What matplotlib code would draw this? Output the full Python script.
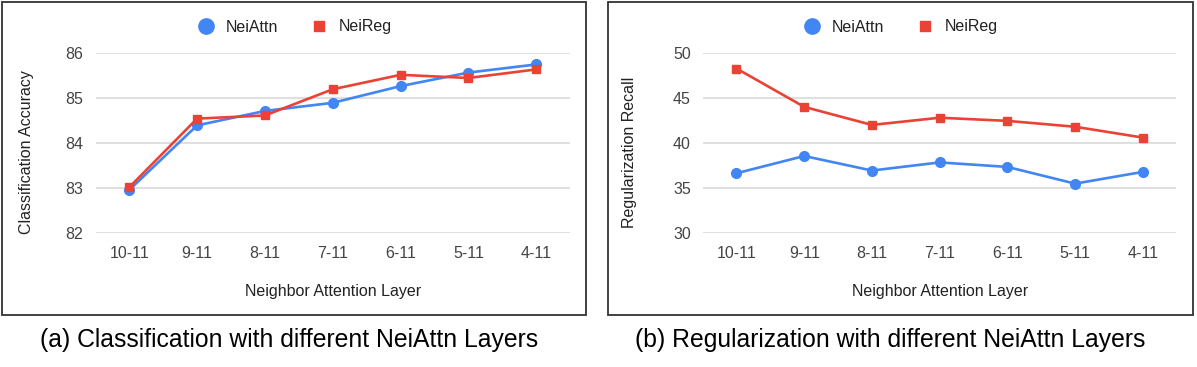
import matplotlib
matplotlib.use("Agg")
import matplotlib.pyplot as plt
from matplotlib.lines import Line2D
from matplotlib.patches import Rectangle
from matplotlib import font_manager

categories = ["10-11", "9-11", "8-11", "7-11", "6-11", "5-11", "4-11"]
cls_neiattn = [82.96, 84.39, 84.71, 84.89, 85.26, 85.56, 85.74]
cls_neireg = [83.02, 84.54, 84.61, 85.19, 85.51, 85.44, 85.63]
reg_neiattn = [36.65, 38.56, 36.95, 37.85, 37.35, 35.5, 36.8]
reg_neireg = [48.25, 44.0, 42.0, 42.8, 42.45, 41.8, 40.6]
cls_ticks = [82, 83, 84, 85, 86]
reg_ticks = [30, 35, 40, 45, 50]
series_names = ["NeiAttn", "NeiReg"]
captions = ["(a) Classification with different NeiAttn Layers",
            "(b) Regularization with different NeiAttn Layers"]
ylabels = ["Classification Accuracy", "Regularization Recall"]
xlabel = "Neighbor Attention Layer"

BLUE = "#4285F4"
RED = "#EA4335"
W, H = 1197, 367

names = {f.name for f in font_manager.fontManager.ttflist}
base_font = "Liberation Sans" if "Liberation Sans" in names else "DejaVu Sans"
cap_font = "Liberation Sans Narrow" if "Liberation Sans Narrow" in names else base_font
cap_size = 19 if cap_font.endswith("Narrow") else 17.8
plt.rcParams["font.family"] = [base_font, "DejaVu Sans"]

fig = plt.figure(figsize=(W / 100, H / 100), dpi=100)

def fx(px):
    return px / W

def fy(py):
    return 1 - py / H

panels = [
    dict(ax=(96, 569.5), frame=(2, 586), cap_x=289, ys=(cls_neiattn, cls_neireg),
         ticks=cls_ticks, ylabel=ylabels[0], caption=captions[0], ylab_x=34),
    dict(ax=(703.3, 1176), frame=(607.5, 1193), cap_x=890, ys=(reg_neiattn, reg_neireg),
         ticks=reg_ticks, ylabel=ylabels[1], caption=captions[1], ylab_x=637),
]

top_px, bot_px = 52.7, 233.3
x = list(range(len(categories)))

for p in panels:
    x0, x1 = p["ax"]
    ax = fig.add_axes([fx(x0), fy(bot_px), (x1 - x0) / W, (bot_px - top_px) / H])
    for spine in ax.spines.values():
        spine.set_visible(False)
    ax.set_xlim(-0.49, 6.49)
    ax.set_ylim(p["ticks"][0], p["ticks"][-1])
    ax.set_yticks(p["ticks"])
    ax.set_xticks(x)
    ax.set_xticklabels(categories)
    ax.tick_params(length=0, labelsize=11.5, colors="#444444")
    ax.tick_params(axis="x", pad=9)
    ax.tick_params(axis="y", pad=9)
    ax.grid(axis="y", color="#d9d9d9", linewidth=1.2)
    ax.set_axisbelow(True)
    ya, yr = p["ys"]
    ax.plot(x, ya, color=BLUE, lw=1.9, marker="o", ms=7, clip_on=False, zorder=3)
    ax.plot(x, yr, color=RED, lw=1.9, marker="s", ms=6.3, clip_on=False, zorder=4)
    ax.set_ylabel(p["ylabel"], fontsize=11.5, color="#222222")
    ax.yaxis.set_label_coords((p["ylab_x"] - x0) / (x1 - x0), 0.45)
    ax.set_xlabel(xlabel, fontsize=11.5, color="#222222")
    ax.xaxis.set_label_coords(0.5, (bot_px - 284) / (bot_px - top_px))

    f0, f1 = p["frame"]
    fig.patches.append(Rectangle((fx(f0), fy(315)), (f1 - f0) / W, (315 - 2) / H,
                                 transform=fig.transFigure, fill=False,
                                 edgecolor="#333333", linewidth=1.3))
    handles = [
        Line2D([], [], color=BLUE, marker="o", ls="none", ms=11),
        Line2D([], [], color=RED, marker="s", ls="none", ms=7.5),
    ]
    center = (f0 + f1) / 2
    ax.legend(handles, series_names, loc="center", ncol=2, frameon=False,
              bbox_to_anchor=(fx(center), fy(27)), bbox_transform=fig.transFigure,
              fontsize=11.5, handletextpad=0.6, columnspacing=2.0, handlelength=1.2,
              labelcolor="#222222")
    fig.text(fx(p["cap_x"]), fy(340), p["caption"], ha="center", va="center",
             fontsize=cap_size, family=[cap_font, "DejaVu Sans"], color="#000000")

fig.savefig("out.png", dpi=100, facecolor="white")
